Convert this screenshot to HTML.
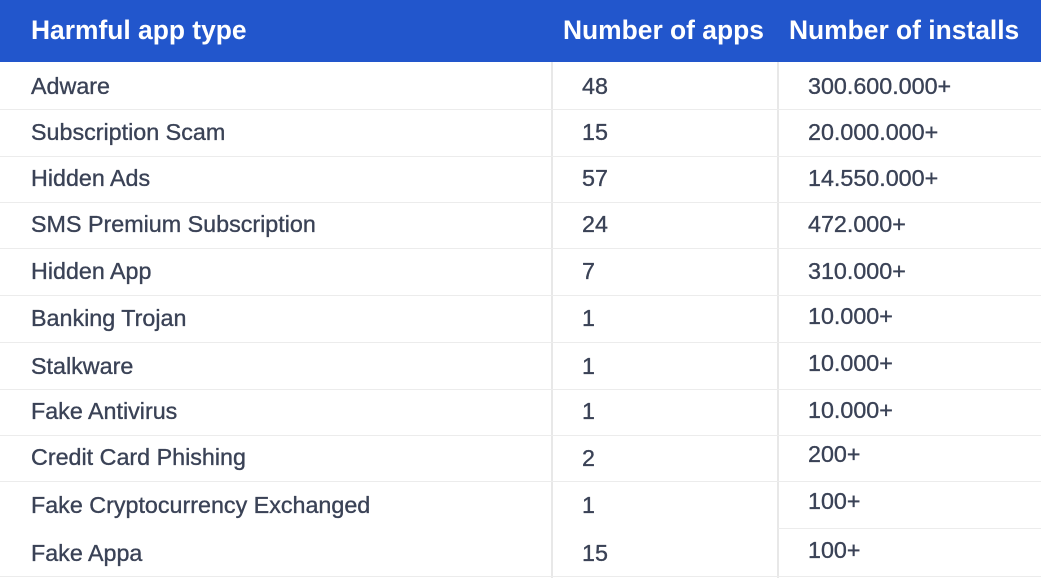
<!DOCTYPE html><html><head><style>
body{margin:0;width:1041px;height:578px;background:#fff;position:relative;overflow:hidden;font-family:"Liberation Sans",Arial,sans-serif;}
.h{position:absolute;left:0;top:0;width:1041px;height:62px;background:#2256cc;}
.ht{position:absolute;color:#fff;font-weight:bold;font-size:26.4px;top:15px;}
.t{position:absolute;color:#3a4256;font-size:23.3px;line-height:26px;-webkit-text-stroke:0.35px #3a4256;}
.hl{position:absolute;left:0;width:1041px;height:1px;background:#ececec;}
.vl{position:absolute;top:62px;width:2px;height:516px;background:#e8e8e8;}
</style></head><body>
<div class="h"></div>
<div class="ht" style="left:31px">Harmful app type</div>
<div class="ht" style="left:563px">Number of apps</div>
<div class="ht" style="left:789px">Number of installs</div>
<div class="vl" style="left:551px"></div><div class="vl" style="left:777px"></div>
<div class="hl" style="top:109px"></div><div class="hl" style="top:156px"></div><div class="hl" style="top:202px"></div><div class="hl" style="top:248px"></div><div class="hl" style="top:295px"></div><div class="hl" style="top:342px"></div><div class="hl" style="top:389px"></div><div class="hl" style="top:435px"></div><div class="hl" style="top:481px"></div><div class="hl" style="top:528px;left:778px;width:263px"></div><div class="hl" style="top:576px"></div>
<div class="t" style="left:31px;top:73px">Adware</div><div class="t" style="left:582px;top:73px">48</div><div class="t" style="left:808px;top:73px">300.600.000+</div>
<div class="t" style="left:31px;top:119px">Subscription Scam</div><div class="t" style="left:582px;top:119px">15</div><div class="t" style="left:808px;top:119px">20.000.000+</div>
<div class="t" style="left:31px;top:165px">Hidden Ads</div><div class="t" style="left:582px;top:165px">57</div><div class="t" style="left:808px;top:165px">14.550.000+</div>
<div class="t" style="left:31px;top:211px">SMS Premium Subscription</div><div class="t" style="left:582px;top:211px">24</div><div class="t" style="left:808px;top:211px">472.000+</div>
<div class="t" style="left:31px;top:258px">Hidden App</div><div class="t" style="left:582px;top:258px">7</div><div class="t" style="left:808px;top:258px">310.000+</div>
<div class="t" style="left:31px;top:305px">Banking Trojan</div><div class="t" style="left:582px;top:305px">1</div><div class="t" style="left:808px;top:303px">10.000+</div>
<div class="t" style="left:31px;top:353px">Stalkware</div><div class="t" style="left:582px;top:353px">1</div><div class="t" style="left:808px;top:350px">10.000+</div>
<div class="t" style="left:31px;top:398px">Fake Antivirus</div><div class="t" style="left:582px;top:398px">1</div><div class="t" style="left:808px;top:397px">10.000+</div>
<div class="t" style="left:31px;top:444px">Credit Card Phishing</div><div class="t" style="left:582px;top:445px">2</div><div class="t" style="left:808px;top:441px">200+</div>
<div class="t" style="left:31px;top:492px">Fake Cryptocurrency Exchanged</div><div class="t" style="left:582px;top:492px">1</div><div class="t" style="left:808px;top:488px">100+</div>
<div class="t" style="left:31px;top:540px">Fake Appa</div><div class="t" style="left:582px;top:540px">15</div><div class="t" style="left:808px;top:537px">100+</div>
</body></html>
